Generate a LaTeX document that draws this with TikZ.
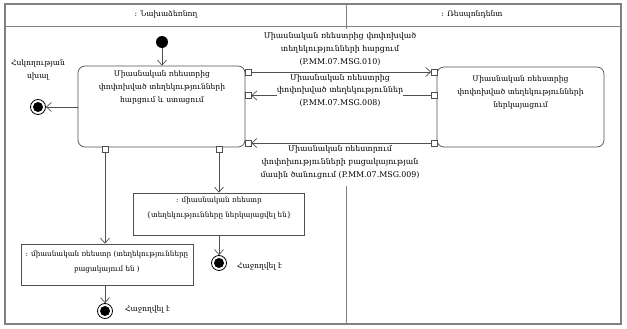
\documentclass[tikz,border=0pt]{standalone}
\usepackage{fontspec}
\setmainfont{DejaVu Serif}
\usetikzlibrary{arrows.meta}
\definecolor{lineg}{HTML}{505050}
\definecolor{frameg}{HTML}{808080}
\begin{document}
\begin{tikzpicture}[x=1pt,y=-1pt,
  font=\fontsize{7.6}{13}\selectfont,
  frame/.style={draw=frameg, line width=1.2pt},
  lane/.style={draw=frameg, line width=0.9pt},
  actbox/.style={draw=lineg, line width=0.7pt, rounded corners=7pt, fill=white, inner sep=0pt},
  objbox/.style={draw=lineg, line width=0.7pt, fill=white, inner sep=0pt},
  txt/.style={align=center, inner sep=0pt},
  objtxt/.style={align=center, inner sep=0pt, font=\fontsize{7.2}{15}\selectfont},
  msg/.style={align=center, inner sep=0pt, fill=white, font=\fontsize{7.9}{12.8}\selectfont},
  pinbox/.style={draw=lineg, line width=0.6pt, fill=white, minimum size=6pt, inner sep=0pt},
  flow/.style={draw=lineg, line width=0.7pt, -{Straight Barb[length=5pt,width=9pt]}},
  startdot/.style={circle, fill=black, minimum size=12pt, inner sep=0pt},
  enddot/.style={circle, draw=black, line width=0.8pt, fill=white, minimum size=15pt, inner sep=0pt},
  endin/.style={circle, fill=black, minimum size=10pt, inner sep=0pt}]
\useasboundingbox (0,0) rectangle (627,329);
% frame and lanes
\draw[frame] (5,4) rectangle (621,324);
\draw[lane] (5,26) -- (621,26);
\coordinate (dA) at (346,4);
\coordinate (dB) at (346,29);
\coordinate (dC) at (346,186);
\coordinate (dD) at (346,324);
\draw[lane] (dA) -- (dB);
\draw[lane] (dC) -- (dD);
\node[txt] (laneL) at (166,14) {: Նախաձեռնող};
\node[txt] (laneR) at (472,14) {: Ռեսպոնդենտ};
% activities
\node[actbox, minimum width=167pt, minimum height=81pt] (mainbox) at (161.5,106.5) {};
\node[txt] (maintxt) at (162,87) {Միասնական ռեեստրից\\փոփոխված տեղեկությունների\\հարցում և ստացում};
\node[actbox, minimum width=167pt, minimum height=80pt] (rbox) at (520.5,107) {};
\node[txt] (rtxt) at (520.5,92) {Միասնական ռեեստրից\\փոփոխված տեղեկությունների\\ներկայացում};
% pins
\node[pinbox] (p1) at (248,72) {};
\node[pinbox] (p2) at (248,95.5) {};
\node[pinbox] (p3) at (248,143) {};
\node[pinbox] (q1) at (434.5,72) {};
\node[pinbox] (q2) at (434.5,95.5) {};
\node[pinbox] (q3) at (434.5,143) {};
\node[pinbox] (b1) at (105,149.5) {};
\node[pinbox] (b2) at (219,149.5) {};
% start
\node[startdot] (start) at (162,42) {};
\draw[flow] (start) -- (mainbox.north -| start);
% control error end
\node[enddot] (errend) at (38,107) {};
\node[endin] (errin) at (errend) {};
\node[txt] (errlbl) at (38,70) {Հսկողության\\սխալ};
\draw[flow] (mainbox.west |- errend) -- (errend);
% messages
\draw[flow] (p1) -- (q1);
\draw[flow] (q2) -- (p2);
\draw[flow] (q3) -- (p3);
\node[msg] (m1) at (340,49) {Միասնական ռեեստրից փոփոխված\\տեղեկությունների հարցում\\(P.MM.07.MSG.010)};
\node[msg] (m2) at (340,90.5) {Միասնական ռեեստրից\\փոփոխված տեղեկություններ\\(P.MM.07.MSG.008)};
\node[msg] (m3) at (340,162.5) {Միասնական ռեեստրում\\փոփոխությունների բացակայության\\մասին ծանուցում (P.MM.07.MSG.009)};
% objects
\node[objbox, minimum width=171pt, minimum height=42pt] (obj2) at (219,214) {};
\node[objtxt] (obj2txt) at (219,208) {: միասնական ռեեստր\\\{տեղեկությունները ներկայացվել են\}};
\node[objbox, minimum width=172pt, minimum height=41pt] (obj1) at (107,264.5) {};
\node[objtxt] (obj1txt) at (107,262) {: միասնական ռեեստր (տեղեկությունները\\բացակայում են )};
\draw[flow] (b2) -- (b2 |- obj2.north);
\draw[flow] (b1) -- (b1 |- obj1.north);
% final nodes
\node[enddot] (end2) at (219,263) {};
\node[endin] (end2in) at (end2) {};
\node[enddot] (end1) at (105,311) {};
\node[endin] (end1in) at (end1) {};
\draw[flow] (obj2.south -| end2) -- (end2);
\draw[flow] (obj1.south -| end1) -- (end1);
\node[txt, anchor=west] (e2lbl) at (237,266) {Հաջողվել է};
\node[txt, anchor=west] (e1lbl) at (125,309) {Հաջողվել է};
\end{tikzpicture}
\end{document}
